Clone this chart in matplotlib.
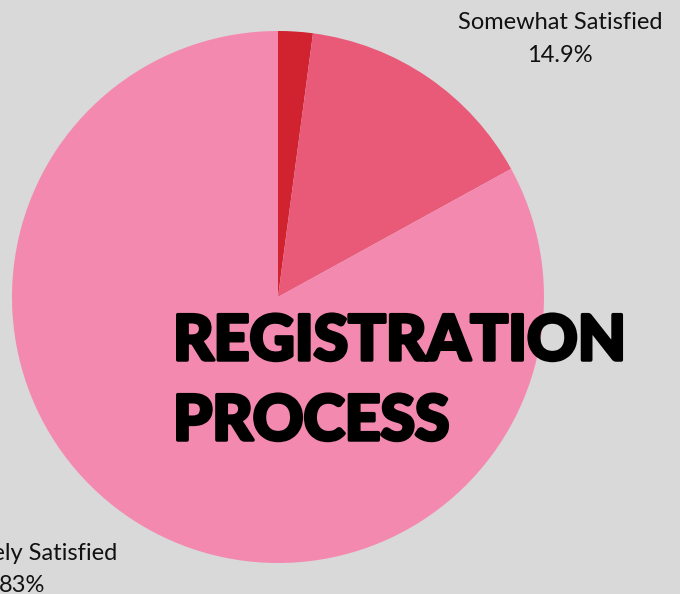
import matplotlib.pyplot as plt
import matplotlib.patheffects as pe

# survey data
labels = ['Very Satisfied', 'Somewhat Satisfied', 'Extremely Satisfied']
shares = [2.1, 14.9, 83.0]
colors = ['#D0222F', '#E85A78', '#F489B0']
title = 'REGISTRATION\nPROCESS'

bg = '#D9D9D9'
W, H = 680, 594

fig = plt.figure(figsize=(W / 100, H / 100), dpi=100, facecolor=bg)
ax = fig.add_axes([0, 0, 1, 1])
ax.set_facecolor(bg)

# pie in pixel coordinates (y axis inverted, so counterclock=True draws clockwise)
ax.pie(shares, colors=colors, center=(278, 297), radius=266,
       startangle=-90, counterclock=True, frame=True,
       wedgeprops=dict(linewidth=0))
ax.set_xlim(0, W)
ax.set_ylim(H, 0)
ax.set_aspect('equal')
ax.axis('off')

lab_font = dict(family=['Lato', 'DejaVu Sans'], fontsize=17, color='#111111')
ax.text(560, 29, labels[1], ha='center', va='baseline', **lab_font)
ax.text(560, 62, f'{shares[1]}%', ha='center', va='baseline', **lab_font)
ax.text(117, 560, labels[2], ha='right', va='baseline', **lab_font)
ax.text(22, 592, f'{shares[2]:g}%', ha='center', va='baseline', **lab_font)

# heavy title over the pie
heavy = [pe.withStroke(linewidth=2.5, foreground='black')]
lines = title.split('\n')
ax.text(173, 360, lines[0], ha='left', va='baseline', fontsize=45,
        fontweight='black', family=['Lato', 'DejaVu Sans'], color='black',
        path_effects=heavy)
ax.text(173, 440, lines[1], ha='left', va='baseline', fontsize=45,
        fontweight='black', family=['Lato', 'DejaVu Sans'], color='black',
        path_effects=heavy)

fig.savefig('out.png', dpi=100, facecolor=bg)
